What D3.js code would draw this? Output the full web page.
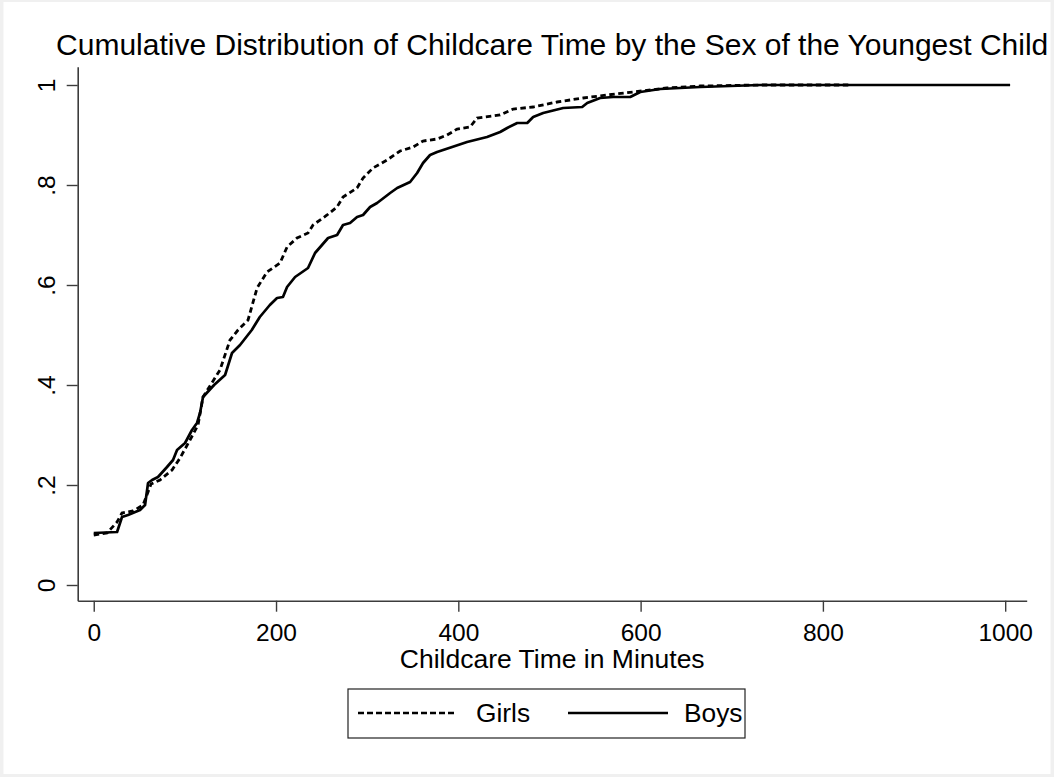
<!DOCTYPE html>
<html>
<head>
<meta charset="utf-8">
<script src="https://cdn.jsdelivr.net/npm/d3@7"></script>
<style>
  body { margin: 0; background: #efefef; }
  svg { display: block; font-family: "Liberation Sans", Arial, sans-serif; }
</style>
</head>
<body>
<div id="chart"></div>
<script>
// minutes / cumulative share
const girlsTime = [0, 14.6, 25.6, 31, 43.1, 54.1, 62.9, 72.7, 85.9, 94.7, 105.6, 114.4, 119.9, 138.5, 149.5, 158.3, 169.3, 179.2, 190.1, 204.4, 212.1, 223, 235.1, 240.6, 256, 266.9, 273.5, 288.9, 295.5, 306.4, 321.8, 336.1, 350.4, 361.3, 376.7, 387.7, 398.7, 412.9, 420.6, 445.9, 460.2, 482.1, 508.4, 536.9, 563.2, 591.8, 629.1, 665.3, 731, 829.8];
const girlsCum = [0.100, 0.104, 0.126, 0.144, 0.148, 0.160, 0.202, 0.210, 0.230, 0.254, 0.290, 0.320, 0.376, 0.430, 0.490, 0.510, 0.530, 0.594, 0.626, 0.644, 0.676, 0.694, 0.704, 0.720, 0.740, 0.756, 0.776, 0.794, 0.814, 0.834, 0.850, 0.868, 0.876, 0.888, 0.892, 0.900, 0.912, 0.916, 0.934, 0.940, 0.952, 0.956, 0.966, 0.974, 0.980, 0.986, 0.994, 0.998, 1, 1];

const boysTime = [0, 25.6, 31, 37.6, 50.8, 56.3, 59.6, 64, 70.5, 80.4, 87, 91.4, 100.2, 107.8, 113.3, 116.6, 119.9, 132, 144.1, 151.7, 160.5, 173.4, 182.2, 193.2, 201.1, 207.6, 212.1, 220.9, 235.1, 242.8, 257.1, 267, 273.5, 281.2, 288.9, 295.5, 303.2, 310.9, 325.2, 332.9, 347.1, 354.8, 361.3, 369, 376.7, 383.3, 393.2, 409.6, 431.5, 445.9, 453.6, 464.6, 475.6, 482.1, 493.1, 515.1, 535.9, 541.4, 555.6, 569.9, 588.6, 599.6, 621.5, 665.4, 731, 1005.4];
const boysCum = [0.104, 0.106, 0.136, 0.140, 0.150, 0.160, 0.204, 0.210, 0.216, 0.236, 0.250, 0.270, 0.284, 0.310, 0.324, 0.344, 0.376, 0.400, 0.420, 0.464, 0.480, 0.510, 0.536, 0.560, 0.574, 0.576, 0.596, 0.616, 0.634, 0.664, 0.694, 0.700, 0.720, 0.724, 0.736, 0.740, 0.756, 0.764, 0.784, 0.794, 0.806, 0.824, 0.844, 0.860, 0.866, 0.870, 0.876, 0.886, 0.896, 0.906, 0.914, 0.924, 0.924, 0.936, 0.944, 0.954, 0.956, 0.964, 0.974, 0.976, 0.976, 0.986, 0.992, 0.996, 1, 1];

const xTicks = [0, 200, 400, 600, 800, 1000];
const yTicks = [0, 0.2, 0.4, 0.6, 0.8, 1];
const yTickLabels = ["0", ".2", ".4", ".6", ".8", "1"];

const W = 1054, H = 777;
const plotL = 77.7, plotR = 1026.7, plotT = 66.7, plotB = 600.7;

const svg = d3.select("#chart").append("svg")
  .attr("width", W).attr("height", H);

// outer frame + white graph region
svg.append("rect").attr("width", W).attr("height", H).attr("fill", "#f0f0f0");
svg.append("rect").attr("x", 3.5).attr("y", 2).attr("width", 1047).attr("height", 772).attr("fill", "#fff");

const x = d3.scaleLinear().domain([-17.6, 1023.6]).range([plotL, plotR]);
const y = d3.scaleLinear().domain([-0.0314, 1.0366]).range([plotB, plotT]);

// axes
const xAxis = svg.append("g")
  .attr("transform", "translate(0," + plotB + ")")
  .call(d3.axisBottom(x).tickValues(xTicks).tickSize(11).tickSizeOuter(0)
    .tickFormat(d3.format("d")));
const yAxis = svg.append("g")
  .attr("transform", "translate(" + plotL + ",0)")
  .call(d3.axisLeft(y).tickValues(yTicks).tickSize(11).tickSizeOuter(0)
    .tickFormat((d, i) => yTickLabels[i]));

[xAxis, yAxis].forEach(g => {
  g.select(".domain").attr("stroke", "#3c3c3c").attr("stroke-width", 1.6);
  g.selectAll(".tick line").attr("stroke", "#3c3c3c").attr("stroke-width", 1.4);
  g.selectAll(".tick text").attr("fill", "#000").attr("font-size", 24.5)
    .attr("font-family", "'Liberation Sans', Arial, sans-serif");
});
xAxis.selectAll(".tick text").attr("dy", null).attr("y", 40.5);
yAxis.selectAll(".tick text")
  .attr("x", null).attr("dy", null)
  .attr("text-anchor", "middle")
  .attr("transform", "translate(-23,0) rotate(-90)");

// curves
const girls = girlsTime.map((t, i) => ({ t: t, v: girlsCum[i] }));
const boys = boysTime.map((t, i) => ({ t: t, v: boysCum[i] }));
const line = d3.line().x(d => x(d.t)).y(d => y(d.v));

svg.append("path").datum(boys)
  .attr("d", line).attr("fill", "none")
  .attr("stroke", "#000").attr("stroke-width", 2.7).attr("stroke-linejoin", "round");
svg.append("path").datum(girls)
  .attr("d", line).attr("fill", "none")
  .attr("stroke", "#000").attr("stroke-width", 2.8)
  .attr("stroke-dasharray", "5.5,3.5");

// titles
svg.append("text").attr("x", (plotL + plotR) / 2).attr("y", 55)
  .attr("text-anchor", "middle").attr("font-size", 30)
  .text("Cumulative Distribution of Childcare Time by the Sex of the Youngest Child");
svg.append("text").attr("x", (plotL + plotR) / 2).attr("y", 668)
  .attr("text-anchor", "middle").attr("font-size", 26.5)
  .text("Childcare Time in Minutes");

// legend
const leg = svg.append("g").attr("transform", "translate(348,689)");
leg.append("rect").attr("width", 397).attr("height", 49)
  .attr("fill", "#fff").attr("stroke", "#222").attr("stroke-width", 1.2);
leg.append("line").attr("x1", 10).attr("x2", 109).attr("y1", 24).attr("y2", 24)
  .attr("stroke", "#000").attr("stroke-width", 2.5).attr("stroke-dasharray", "6,3");
leg.append("text").attr("x", 128).attr("y", 33).attr("font-size", 26.3).text("Girls");
leg.append("line").attr("x1", 220).attr("x2", 320).attr("y1", 24).attr("y2", 24)
  .attr("stroke", "#000").attr("stroke-width", 2.5);
leg.append("text").attr("x", 336).attr("y", 33).attr("font-size", 26.3).text("Boys");
</script>
</body>
</html>
